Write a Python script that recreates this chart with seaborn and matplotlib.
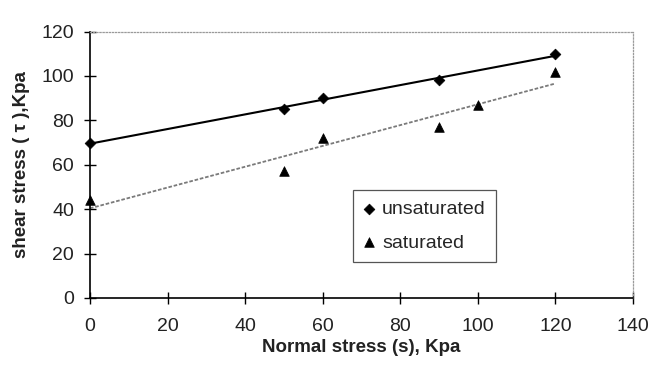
import numpy as np
import pandas as pd
import matplotlib
matplotlib.use("Agg")
import matplotlib.pyplot as plt
import seaborn as sns

# Direct shear test results
normal_unsat = [0, 50, 60, 90, 120]
shear_unsat = [70, 85, 90, 98, 110]
normal_sat = [0, 50, 60, 90, 100, 120]
shear_sat = [44, 57, 72, 77, 87, 102]

x_ticks = [0, 20, 40, 60, 80, 100, 120, 140]
y_ticks = [0, 20, 40, 60, 80, 100, 120]

unsat = pd.DataFrame({"normal": normal_unsat, "shear": shear_unsat})
sat = pd.DataFrame({"normal": normal_sat, "shear": shear_sat})

sns.set_theme(style="ticks")
plt.rcParams["font.family"] = ["Liberation Sans", "DejaVu Sans"]

fig = plt.figure(figsize=(6.63, 3.65), dpi=100)
ax = fig.add_axes([0.1357, 0.1836, 0.819, 0.730])

# linear trend lines through each data set
sns.regplot(data=unsat, x="normal", y="shear", ci=None, scatter=False, ax=ax,
            line_kws=dict(color="black", lw=1.5))
sns.regplot(data=sat, x="normal", y="shear", ci=None, scatter=False, ax=ax,
            line_kws=dict(color="#7a7a7a", lw=1.3, ls=(0, (2, 1))))

# measured points
sns.scatterplot(data=unsat, x="normal", y="shear", marker="D", s=30,
                color="black", edgecolor="black", linewidth=0.5,
                label="unsaturated", ax=ax, clip_on=False, zorder=4)
sns.scatterplot(data=sat, x="normal", y="shear", marker="^", s=48,
                color="black", edgecolor="black", linewidth=0.5,
                label="saturated", ax=ax, clip_on=False, zorder=4)

ax.set_xlim(0, 140)
ax.set_ylim(0, 120)
ax.set_xticks(x_ticks)
ax.set_yticks(y_ticks)

for side in ("left", "bottom"):
    ax.spines[side].set_color("black")
    ax.spines[side].set_linewidth(1.2)
for side in ("top", "right"):
    ax.spines[side].set_visible(True)
    ax.spines[side].set_color("#9a9a9a")
    ax.spines[side].set_linewidth(0.9)
    ax.spines[side].set_linestyle((0, (1, 1.5)))

ax.tick_params(axis="both", direction="inout", length=9, width=1,
               color="black", labelsize=14, labelcolor="#222222")
ax.tick_params(axis="x", pad=10)
ax.tick_params(axis="y", pad=7)

ax.set_xlabel("Normal stress (s), Kpa", fontsize=13.5, fontweight="bold",
              labelpad=3, color="#222222")
ax.set_ylabel("shear stress ( τ ),Kpa", fontsize=13.5, fontweight="bold",
              labelpad=8, color="#222222")

leg = ax.legend(loc="upper left", bbox_to_anchor=(0.484, 0.405),
                frameon=True, fancybox=False, edgecolor="#555555",
                framealpha=1, fontsize=14, handlelength=0.6,
                handletextpad=0.35, labelspacing=0.8, borderpad=0.55,
                borderaxespad=0)
leg.get_frame().set_linewidth(0.9)

fig.savefig("out.png", dpi=100)
